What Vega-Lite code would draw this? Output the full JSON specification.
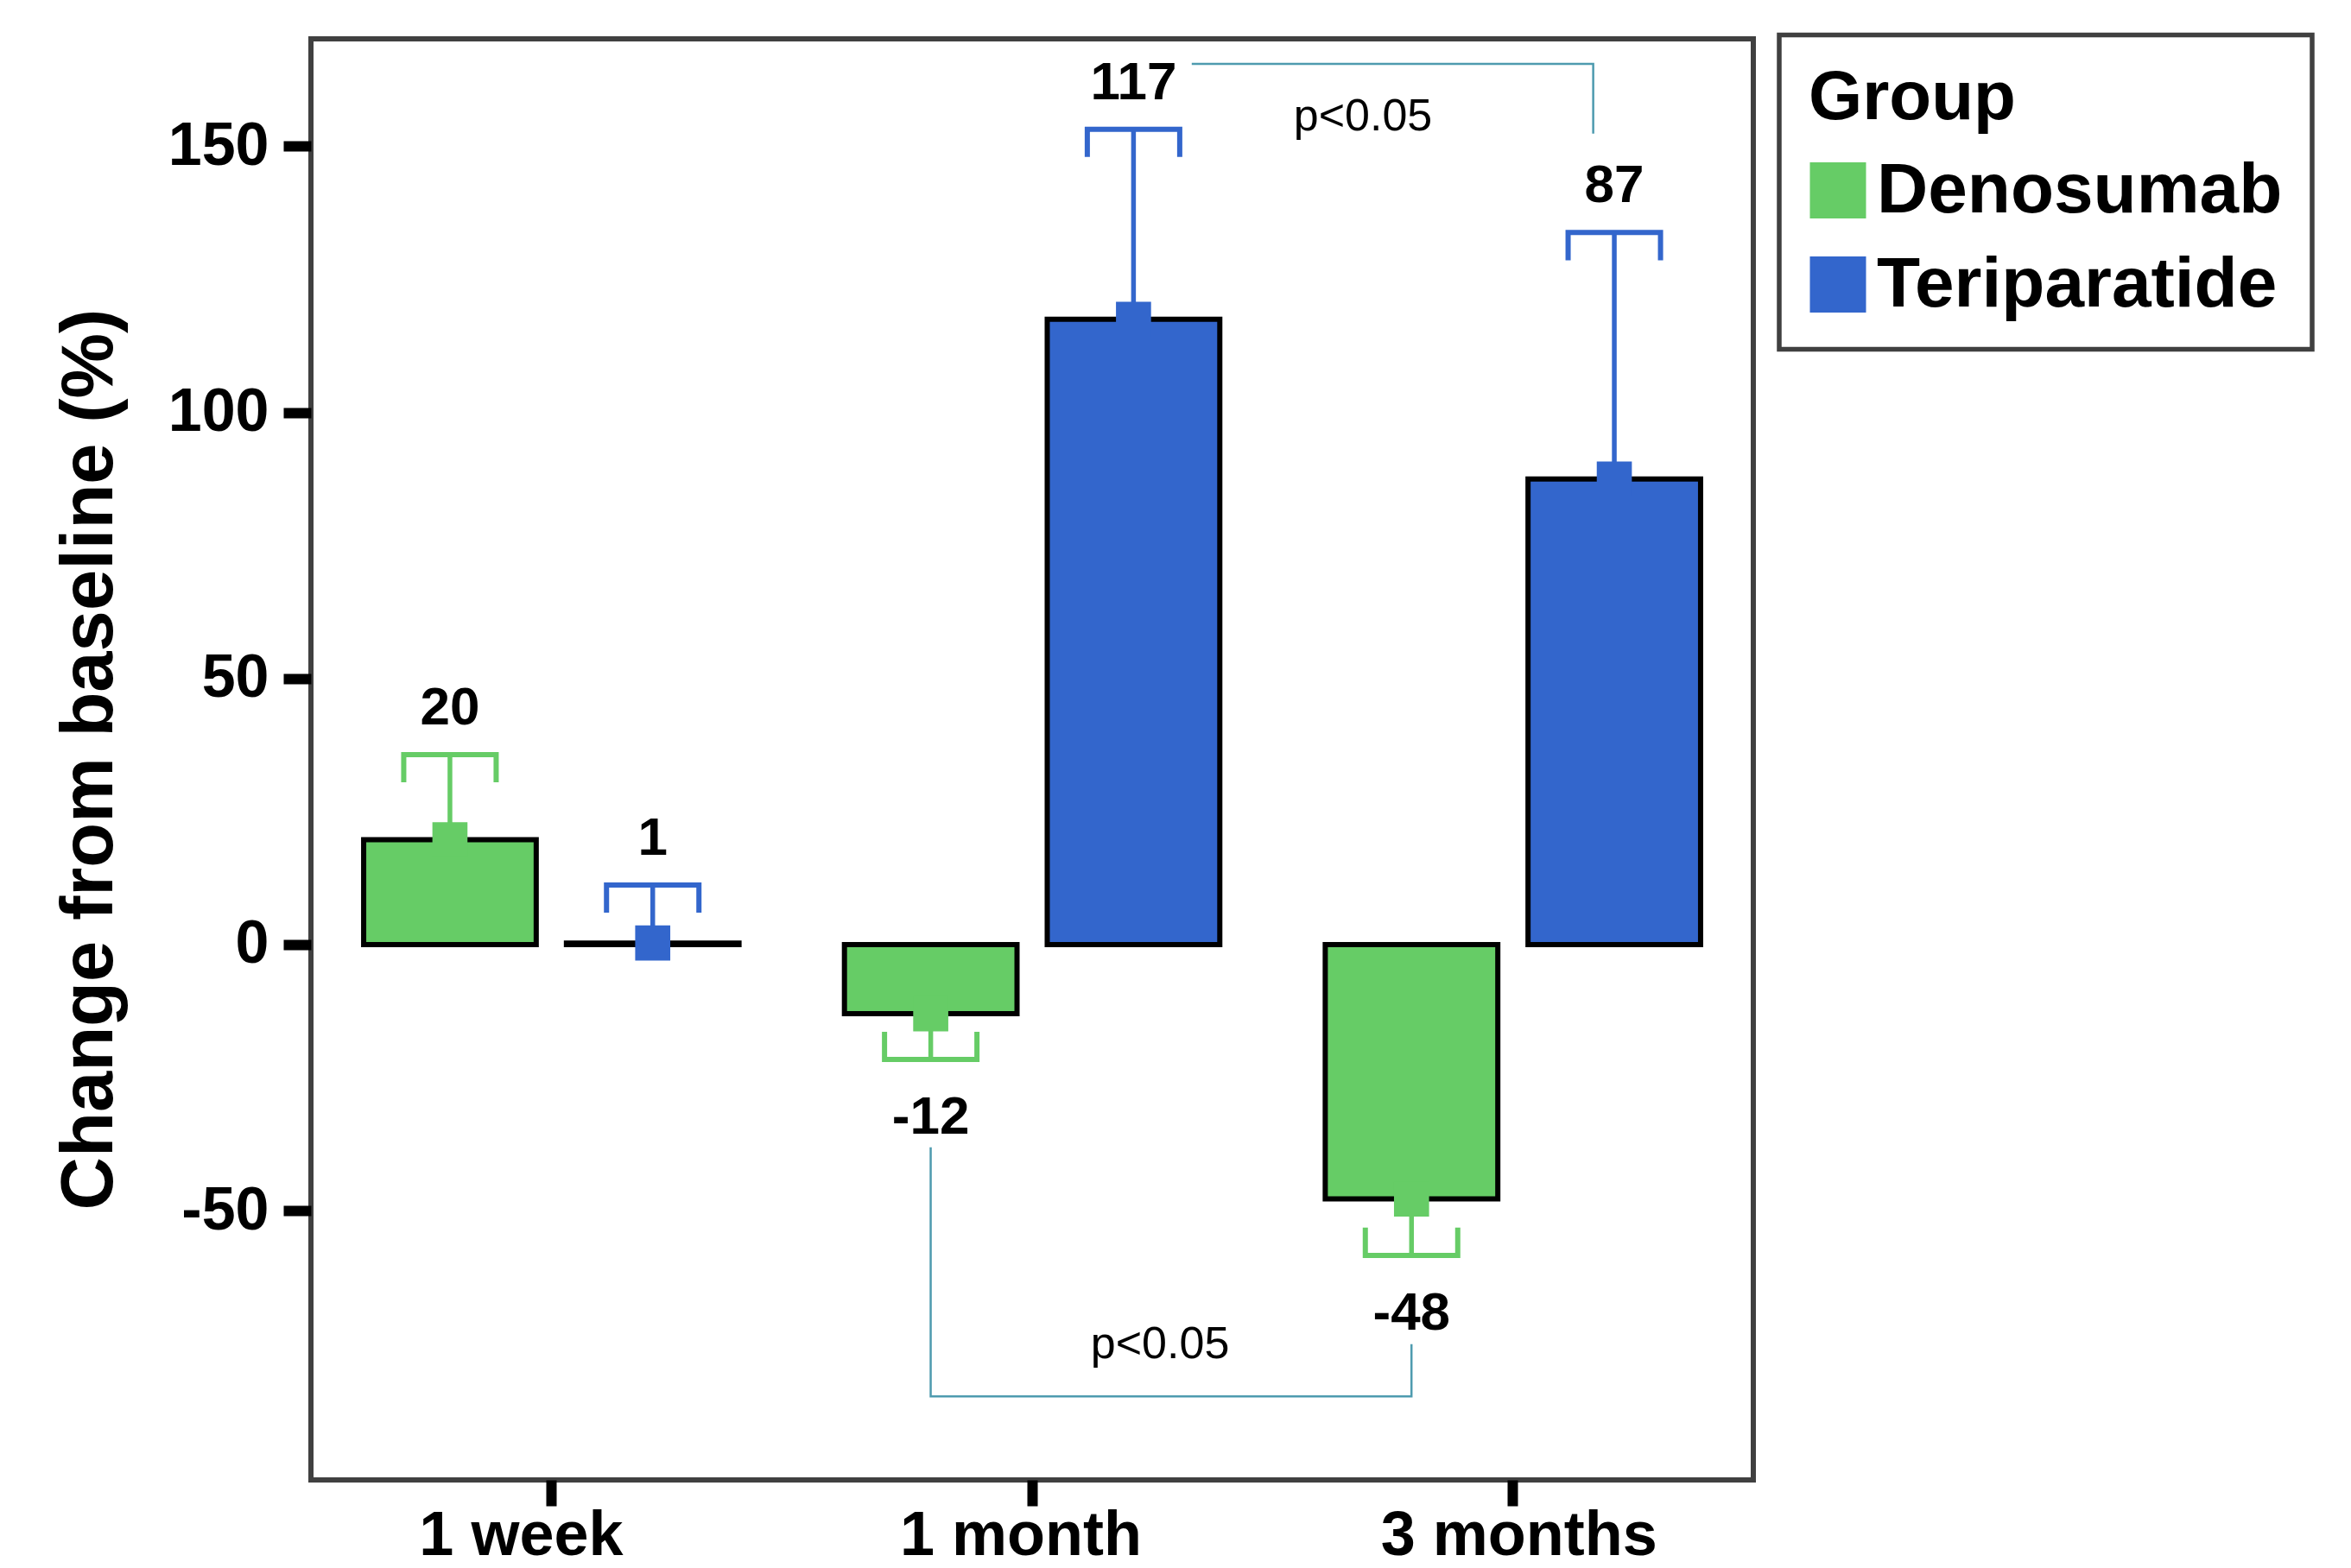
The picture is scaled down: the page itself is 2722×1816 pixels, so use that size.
{
  "$schema": "https://vega.github.io/schema/vega-lite/v6.json",
  "width": 1670,
  "height": 1669,
  "autosize": {"type": "none"},
  "padding": {"left": 360, "top": 45, "right": 692, "bottom": 102},
  "background": "white",
  "config": {
    "view": {"stroke": "#404040", "strokeWidth": 6},
    "font": "Liberation Sans",
    "legend": {"strokeColor": "#404040", "strokeWidth": 5.5, "symbolStrokeColor": "black", "symbolStrokeWidth": 5}
  },
  "datasets": {
    "stats": [
      {"time": "1 week", "group": "Denosumab", "mean": 19.7, "err": 35.7, "label": "20"},
      {"time": "1 week", "group": "Teriparatide", "mean": 0.3, "err": 11.2, "label": "1"},
      {"time": "1 month", "group": "Denosumab", "mean": -13.0, "err": -21.6, "label": "-12"},
      {"time": "1 month", "group": "Teriparatide", "mean": 117.5, "err": 153.2, "label": "117"},
      {"time": "3 months", "group": "Denosumab", "mean": -47.8, "err": -58.4, "label": "-48"},
      {"time": "3 months", "group": "Teriparatide", "mean": 87.5, "err": 133.8, "label": "87"}
    ],
    "brackets": [
      {"bracket": "top", "seq": 1, "pos": 1.832, "val": 165.5},
      {"bracket": "top", "seq": 2, "pos": 2.667, "val": 165.5},
      {"bracket": "top", "seq": 3, "pos": 2.667, "val": 152.4},
      {"bracket": "bottom", "seq": 1, "pos": 1.289, "val": -38.1},
      {"bracket": "bottom", "seq": 2, "pos": 1.289, "val": -84.9},
      {"bracket": "bottom", "seq": 3, "pos": 2.289, "val": -84.9},
      {"bracket": "bottom", "seq": 4, "pos": 2.289, "val": -75.1}
    ],
    "notes": [
      {"pos": 2.188, "val": 153.0, "text": "p<0.05"},
      {"pos": 1.766, "val": -77.7, "text": "p<0.05"}
    ]
  },
  "layer": [
    {
      "data": {"name": "stats"},
      "encoding": {
        "x": {
          "field": "time", "type": "nominal", "sort": ["1 week", "1 month", "3 months"],
          "scale": {"paddingInner": 0, "paddingOuter": 0},
          "axis": {
            "title": null, "labelFont": "Liberation Sans", "labelFontSize": 72, "labelFontWeight": "bold",
            "labelColor": "black", "labelAlign": "left", "labelOffset": -153, "labelPadding": -1,
            "labelAngle": 0, "tickSize": 30, "tickWidth": 12, "tickColor": "black",
            "domain": false, "grid": false, "labelLimit": 1000
          }
        },
        "xOffset": {
          "field": "group", "type": "nominal", "sort": ["Denosumab", "Teriparatide"],
          "scale": {"paddingInner": 0.149, "paddingOuter": 0.26}
        }
      },
      "layer": [
        {
          "mark": {"type": "bar", "stroke": "black", "strokeWidth": 6},
          "encoding": {
            "y": {
              "field": "mean", "type": "quantitative", "stack": null,
              "scale": {"domain": [-100.6, 170.2], "nice": false},
              "axis": {
                "values": [-50, 0, 50, 100, 150],
                "labelExpr": "replace(datum.label, '\u2212', '-')",
                "title": "Change from baseline (%)",
                "titleFont": "Liberation Sans", "titleFontSize": 85, "titleFontWeight": "bold", "titleColor": "black",
                "titleX": -231, "titleY": 834, "titleAngle": -90, "titleBaseline": "alphabetic", "titleAlign": "center",
                "labelFont": "Liberation Sans", "labelFontSize": 70, "labelFontWeight": "bold", "labelColor": "black",
                "labelPadding": 17, "labelBaseline": "middle", "labelLimit": 1000,
                "tickSize": 32, "tickWidth": 12, "tickColor": "black", "domain": false, "grid": false
              }
            },
            "fill": {
              "field": "group", "type": "nominal",
              "scale": {"domain": ["Denosumab", "Teriparatide"], "range": ["#66CC66", "#3366CC"]},
              "legend": {
                "title": "Group", "orient": "none", "legendX": 1700, "legendY": -4.5,
                "direction": "vertical", "padding": 34,
                "titleFont": "Liberation Sans", "titleFontSize": 80, "titleFontWeight": "bold", "titleColor": "black",
                "titlePadding": 25, "titleLimit": 1000, "titleAnchor": "start",
                "labelFont": "Liberation Sans", "labelFontSize": 82, "labelFontWeight": "bold", "labelColor": "black",
                "labelLimit": 1000, "labelOffset": 4, "rowPadding": 27,
                "symbolType": "square", "symbolSize": 3600, "symbolStrokeColor": "black", "symbolStrokeWidth": 5, "symbolOpacity": 1,
                "symbolOffset": -7
              }
            }
          }
        },
        {
          "mark": {"type": "rule", "strokeWidth": 5.5},
          "encoding": {
            "y": {"field": "mean", "type": "quantitative"},
            "y2": {"field": "err"},
            "stroke": {"field": "group", "type": "nominal", "scale": {"domain": ["Denosumab", "Teriparatide"], "range": ["#66CC66", "#3366CC"]}, "legend": null}
          }
        },
        {
          "mark": {"type": "point", "shape": "square", "filled": true, "size": 1650, "opacity": 1, "strokeWidth": 0},
          "encoding": {
            "y": {"field": "mean", "type": "quantitative"},
            "fill": {"field": "group", "type": "nominal", "legend": null}
          }
        },
        {
          "transform": [{"filter": "datum.err >= 0"}],
          "mark": {"type": "point", "shape": "M-1,0.6L-1,0L1,0L1,0.6", "filled": false, "size": 11449, "strokeWidth": 6, "opacity": 1},
          "encoding": {
            "y": {"field": "err", "type": "quantitative"},
            "stroke": {"field": "group", "type": "nominal", "legend": null}
          }
        },
        {
          "transform": [{"filter": "datum.err < 0"}],
          "mark": {"type": "point", "shape": "M-1,-0.6L-1,0L1,0L1,-0.6", "filled": false, "size": 11449, "strokeWidth": 6, "opacity": 1},
          "encoding": {
            "y": {"field": "err", "type": "quantitative"},
            "stroke": {"field": "group", "type": "nominal", "legend": null}
          }
        },
        {
          "mark": {"type": "rule", "color": "black", "strokeWidth": 3, "strokeDash": [10, 7]},
          "encoding": {"y": {"datum": 0}}
        },
        {
          "transform": [{"filter": "datum.err >= 0"}],
          "mark": {"type": "text", "font": "Liberation Sans", "fontSize": 62, "fontWeight": "bold", "color": "black", "align": "center", "baseline": "alphabetic", "dy": -35},
          "encoding": {"y": {"field": "err", "type": "quantitative"}, "text": {"field": "label"}}
        },
        {
          "transform": [{"filter": "datum.err < 0"}],
          "mark": {"type": "text", "font": "Liberation Sans", "fontSize": 62, "fontWeight": "bold", "color": "black", "align": "center", "baseline": "alphabetic", "dy": 86},
          "encoding": {"y": {"field": "err", "type": "quantitative"}, "text": {"field": "label"}}
        }
      ]
    },
    {
      "layer": [
        {
          "data": {"name": "brackets"},
          "mark": {"type": "line", "color": "#4E9BAF", "strokeWidth": 2.5},
          "encoding": {
            "x": {"field": "pos", "type": "quantitative", "scale": {"domain": [0, 3], "nice": false, "zero": false}, "axis": null},
            "y": {"field": "val", "type": "quantitative"},
            "detail": {"field": "bracket"},
            "order": {"field": "seq"}
          }
        },
        {
          "data": {"name": "notes"},
          "mark": {"type": "text", "font": "Liberation Sans", "fontSize": 52, "color": "black", "align": "center", "baseline": "alphabetic"},
          "encoding": {
            "x": {"field": "pos", "type": "quantitative"},
            "y": {"field": "val", "type": "quantitative"},
            "text": {"field": "text"}
          }
        }
      ]
    }
  ],
  "resolve": {"scale": {"x": "independent"}}
}
